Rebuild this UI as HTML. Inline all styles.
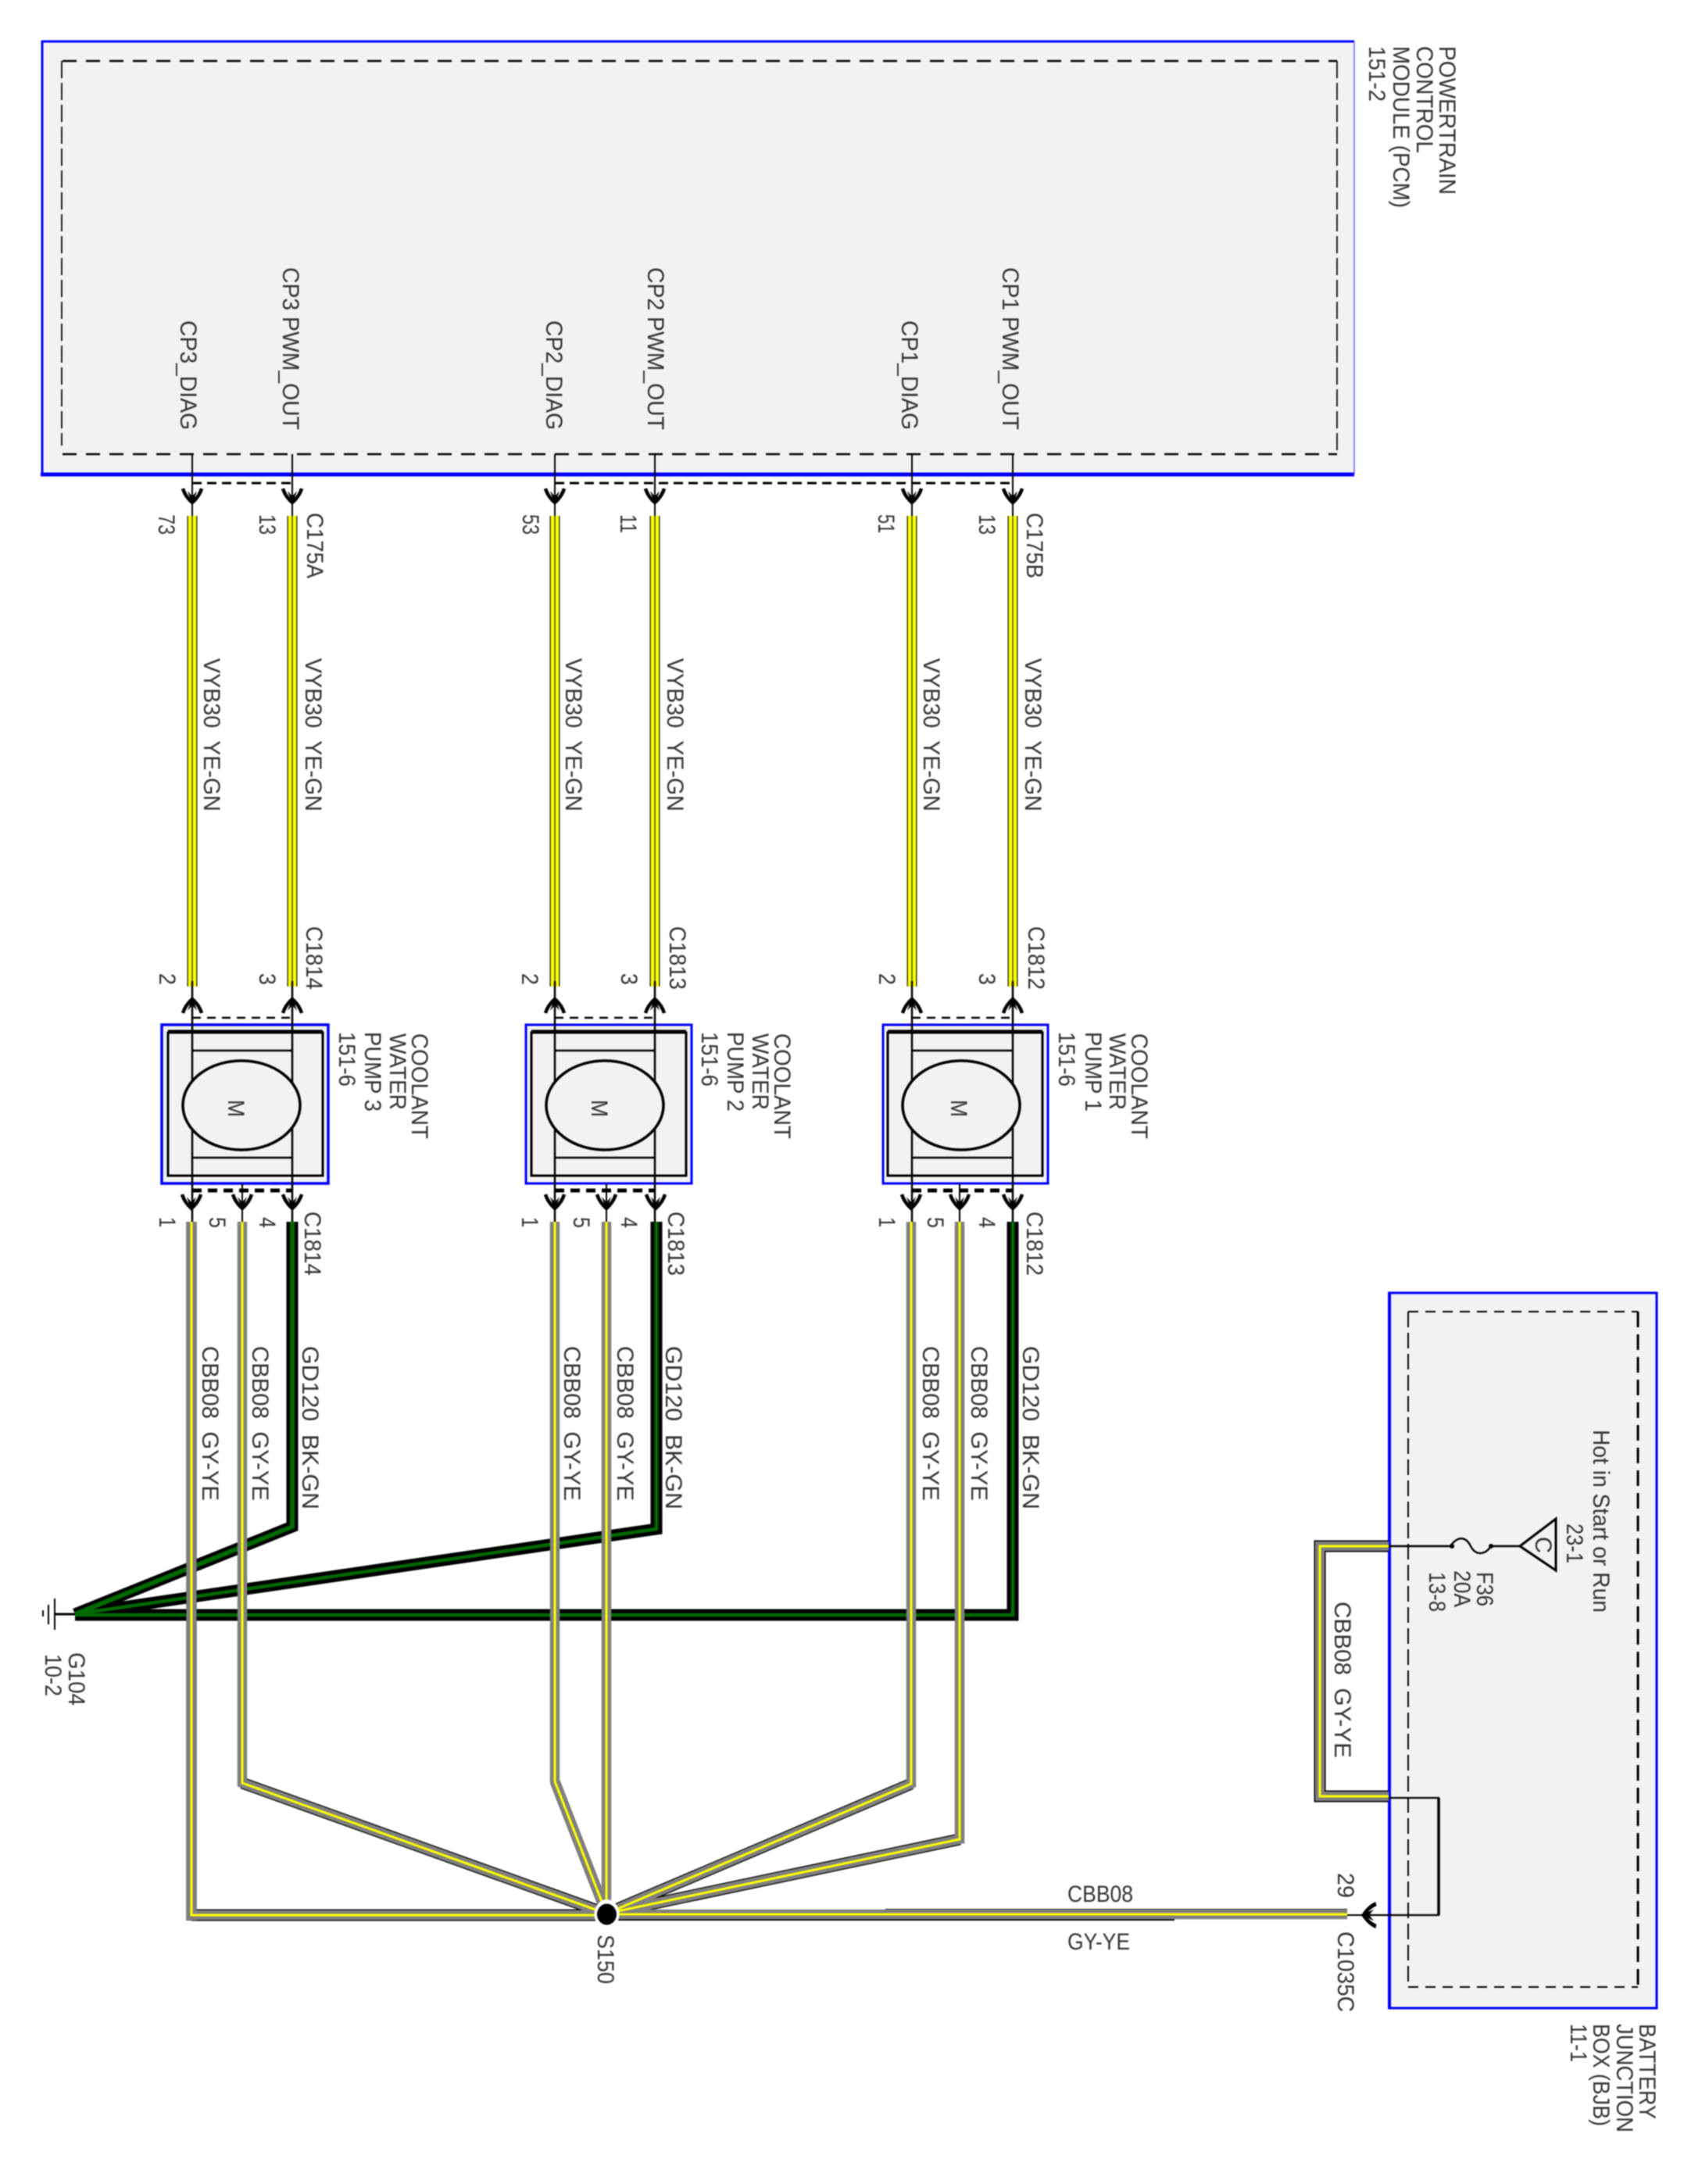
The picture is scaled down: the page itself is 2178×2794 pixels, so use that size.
<!DOCTYPE html>
<html><head><meta charset="utf-8"><style>
html,body{margin:0;padding:0;background:#fff;width:2178px;height:2794px;overflow:hidden}
svg{display:block;filter:blur(.7px)}
text{font-family:"Liberation Sans",sans-serif;font-size:30px;fill:#333}
.bk{fill:none;stroke:#000;stroke-width:15}
.gy{fill:none;stroke:#808080;stroke-width:12.5}
.ye{fill:none;stroke:#ff0;stroke-width:3}
.gk{fill:none;stroke:#000;stroke-width:15}
.gn{fill:none;stroke:#006a00;stroke-width:4.5}
</style></head><body>
<svg width="2178" height="2794" viewBox="0 0 2178 2794" xmlns="http://www.w3.org/2000/svg">
<defs>
<g id="ar"><path d="M-12,-21 Q-9,-11 0,-3 Q9,-11 12,-21" fill="none" stroke="#000" stroke-width="4.5"/><path d="M-6,-18 L0,0 L6,-18 L0,-11 Z" fill="#000"/></g>
</defs>

<!-- PCM -->
<rect x="54" y="53" width="1679" height="553" fill="#f2f2f2"/>
<path d="M53,53 H1733" stroke="#00f" stroke-width="3" fill="none"/>
<path d="M1733,53 V606" stroke="#66f" stroke-width="1.5" fill="none"/>
<path d="M54,52 V608" stroke="#00f" stroke-width="3" fill="none"/>
<path d="M52,607 H1733" stroke="#00f" stroke-width="5" fill="none"/>
<path d="M80,78 H1711 M80,581 H1711" stroke="#000" stroke-width="2.5" stroke-dasharray="18 12" fill="none"/>
<path d="M79,78 V570 M1711,78 V581" stroke="#000" stroke-width="1.7" stroke-dasharray="22 6" fill="none"/>

<!-- PCM leads -->
<path d="M246,581V660 M374,581V660 M710,581V660 M838,581V660 M1167,581V660 M1296,581V660" stroke="#000" stroke-width="2" fill="none"/>
<path d="M246,618H374 M710,618H1296" stroke="#000" stroke-width="3" stroke-dasharray="12 7" fill="none"/>
<use href="#ar" transform="translate(246,646)"/><use href="#ar" transform="translate(374,646)"/><use href="#ar" transform="translate(710,646)"/><use href="#ar" transform="translate(838,646)"/><use href="#ar" transform="translate(1167,646)"/><use href="#ar" transform="translate(1296,646)"/>

<!-- yellow wires -->
<g fill="none">
<path d="M246,660V1262 M374,660V1262 M710,660V1262 M838,660V1262 M1167,660V1262 M1296,660V1262" stroke="#111" stroke-width="13"/>
<path d="M246,660V1262 M374,660V1262 M710,660V1262 M838,660V1262 M1167,660V1262 M1296,660V1262" stroke="#ff0" stroke-width="10.5"/>
<path d="M246,660V1262 M374,660V1262 M710,660V1262 M838,660V1262 M1167,660V1262 M1296,660V1262" stroke="#3a5a00" stroke-width="1.5"/>
</g>

<!-- pumps -->
<g fill="#f2f2f2">
<rect x="207" y="1311" width="213" height="203" stroke="#00f" stroke-width="3.5"/>
<rect x="673" y="1311" width="212" height="203" stroke="#00f" stroke-width="3"/>
<rect x="1130" y="1311" width="211" height="203" stroke="#00f" stroke-width="3"/>
</g>
<g fill="none" stroke="#000" stroke-width="3">
<rect x="215" y="1321" width="198" height="183"/><path d="M215,1320H413" stroke-width="5"/>
<rect x="680" y="1321" width="198" height="183"/><path d="M680,1320H878" stroke-width="5"/>
<rect x="1136" y="1321" width="198" height="183"/><path d="M1136,1320H1334" stroke-width="5"/>
<path d="M246,1344H374 M246,1481H374 M710,1344H838 M710,1481H838 M1167,1344H1296 M1167,1481H1296" stroke-width="2.5"/>
<path d="M246,1255V1563 M374,1255V1563 M710,1255V1563 M838,1255V1563 M1167,1255V1563 M1296,1255V1563" stroke-width="2.5"/>
<path d="M310,1514V1563 M776,1514V1563 M1228,1514V1563" stroke-width="2"/>
<path d="M246,1302H374 M710,1302H838 M1167,1302H1296" stroke-dasharray="11 8" stroke-width="2.5"/>
<path d="M246,1523H374 M710,1523H838 M1167,1523H1296" stroke-dasharray="12 8" stroke-width="5"/>
</g>
<g fill="#f2f2f2" stroke="#000" stroke-width="3.5">
<ellipse cx="309" cy="1414" rx="75" ry="57"/>
<ellipse cx="774" cy="1414" rx="75" ry="57"/>
<ellipse cx="1230" cy="1414" rx="75" ry="57"/>
</g>
<g>
<use href="#ar" transform="translate(246,1275) rotate(180)"/><use href="#ar" transform="translate(374,1275) rotate(180)"/><use href="#ar" transform="translate(710,1275) rotate(180)"/><use href="#ar" transform="translate(838,1275) rotate(180)"/><use href="#ar" transform="translate(1167,1275) rotate(180)"/><use href="#ar" transform="translate(1296,1275) rotate(180)"/>
<use href="#ar" transform="translate(245,1549)"/><use href="#ar" transform="translate(310,1549)"/><use href="#ar" transform="translate(374,1549)"/><use href="#ar" transform="translate(710,1549)"/><use href="#ar" transform="translate(776,1549)"/><use href="#ar" transform="translate(839,1549)"/><use href="#ar" transform="translate(1166,1549)"/><use href="#ar" transform="translate(1228,1549)"/><use href="#ar" transform="translate(1296,1549)"/>
</g>

<!-- ground wires -->
<path class="gk" d="M374,1563V1953L96,2065"/><path class="gk" d="M840,1563V1956L96,2065"/><path class="gk" d="M1296,1563V2066H96"/>
<path class="gn" style="stroke-width:6" d="M374,1563V1953L96,2065"/><path class="gn" d="M840,1563V1956L96,2065"/><path class="gn" d="M1296,1563V2066H96"/>
<!-- ground symbol -->
<path d="M96,2065H70 M70,2045V2085 M62,2053V2078 M55,2060V2068" stroke="#000" fill="none" stroke-width="2"/>
<path d="M96,2065H70" stroke="#000" fill="none" stroke-width="3"/>

<!-- gray wires -->
<path class="bk" d="M245,2450H776"/><path class="bk" d="M310,2281L776,2448"/><path class="bk" d="M710,2279L776,2448" style="stroke-width:13"/><path class="bk" d="M1166,2282L776,2448"/><path class="bk" d="M1228,2353L776,2448"/>
<path d="M245,1563V2457" stroke="#555" stroke-width="13.5" fill="none"/>
<path d="M1133,2443H1724" stroke="#000" stroke-width="2" fill="none"/>
<path d="M776,2456H1503" stroke="#000" stroke-width="2" fill="none"/>
<path class="gy" d="M245,1563V2450H776"/><path class="gy" d="M310,1563V2281L776,2448"/><path class="gy" d="M710,1563V2279L776,2448"/><path class="gy" d="M776,1563V2448"/><path class="gy" d="M1166,1563V2282L776,2448"/><path class="gy" d="M1228,1563V2353L776,2448"/><path class="gy" d="M776,2449H1724"/>
<path class="ye" d="M245,1563V2450H776"/><path class="ye" d="M310,1563V2281L776,2448"/><path class="ye" d="M710,1563V2279L776,2448"/><path class="ye" d="M776,1563V2448"/><path class="ye" d="M1166,1563V2282L776,2448"/><path class="ye" d="M1228,1563V2353L776,2448"/><path class="ye" d="M776,2449H1724"/>
<ellipse cx="776.5" cy="2449" rx="16" ry="19" fill="#fff"/>
<ellipse cx="776.5" cy="2449" rx="12.5" ry="13.5" fill="#000"/>

<!-- BJB -->
<rect x="1778" y="1654" width="342" height="915" fill="#f2f2f2" stroke="#00f" stroke-width="3"/>
<path d="M1778,1653V2570" stroke="#00f" stroke-width="4" fill="none"/>
<path d="M1802,1678V2542" stroke="#000" stroke-width="2" stroke-dasharray="20 7" fill="none"/>
<path d="M2096,1678V2542" stroke="#000" stroke-width="3" stroke-dasharray="20 9" fill="none"/>
<path d="M1802,1678H2096 M1802,2542H2096" stroke="#000" stroke-width="2" stroke-dasharray="13 9" fill="none"/>
<!-- loop wire -->
<path d="M1777,1978H1689V2298H1777" fill="none" stroke="#000" stroke-width="15"/>
<path d="M1777,1978H1689V2298H1777" fill="none" stroke="#808080" stroke-width="12"/>
<path d="M1777,1978H1689V2298H1777" fill="none" stroke="#ff0" stroke-width="3"/>
<!-- fuse etc -->
<path d="M1777,1978H1856 C1866,1964 1876,1966 1882,1978 C1888,1990 1900,1990 1908,1978 H1945" fill="none" stroke="#000" stroke-width="2.4"/>
<circle cx="1858" cy="1978" r="3" fill="#000"/><circle cx="1908" cy="1978" r="3" fill="#000"/>
<path d="M1945,1978L1991,1943V2009Z" fill="none" stroke="#000" stroke-width="3"/>
<path d="M1777,2300H1841V2450H1742" fill="none" stroke="#000" stroke-width="2.2"/>
<path d="M1841,2300V2450" stroke="#000" stroke-width="3.5" fill="none"/>
<path d="M1742,2450H1724" stroke="#000" stroke-width="2" fill="none"/>
<use href="#ar" transform="translate(1742,2450) rotate(90) scale(1.2,0.9)"/>

<g transform="translate(2,0)">
<!-- labels PCM -->
<text transform="translate(1840,59) rotate(90)" textLength="190" lengthAdjust="spacingAndGlyphs">POWERTRAIN</text>
<text transform="translate(1811,59) rotate(90)" textLength="137" lengthAdjust="spacingAndGlyphs">CONTROL</text>
<text transform="translate(1781,59) rotate(90)" textLength="207" lengthAdjust="spacingAndGlyphs">MODULE (PCM)</text>
<text transform="translate(1750,59) rotate(90)" textLength="71" lengthAdjust="spacingAndGlyphs">151-2</text>
<text transform="translate(360,342) rotate(90)" textLength="208" lengthAdjust="spacingAndGlyphs">CP3 PWM_OUT</text>
<text transform="translate(229,410) rotate(90)" textLength="140" lengthAdjust="spacingAndGlyphs">CP3_DIAG</text>
<text transform="translate(827,342) rotate(90)" textLength="208" lengthAdjust="spacingAndGlyphs">CP2 PWM_OUT</text>
<text transform="translate(697,410) rotate(90)" textLength="140" lengthAdjust="spacingAndGlyphs">CP2_DIAG</text>
<text transform="translate(1281,342) rotate(90)" textLength="208" lengthAdjust="spacingAndGlyphs">CP1 PWM_OUT</text>
<text transform="translate(1152,410) rotate(90)" textLength="140" lengthAdjust="spacingAndGlyphs">CP1_DIAG</text>
<text transform="translate(391,656) rotate(90)" textLength="84" lengthAdjust="spacingAndGlyphs">C175A</text>
<text transform="translate(1312,656) rotate(90)" textLength="84" lengthAdjust="spacingAndGlyphs">C175B</text>

<!-- wire labels top -->
<text transform="translate(259,842) rotate(90)" textLength="196" lengthAdjust="spacingAndGlyphs">VYB30&#160;&#160;YE-GN</text>
<text transform="translate(389,842) rotate(90)" textLength="196" lengthAdjust="spacingAndGlyphs">VYB30&#160;&#160;YE-GN</text>
<text transform="translate(722,842) rotate(90)" textLength="196" lengthAdjust="spacingAndGlyphs">VYB30&#160;&#160;YE-GN</text>
<text transform="translate(852,842) rotate(90)" textLength="196" lengthAdjust="spacingAndGlyphs">VYB30&#160;&#160;YE-GN</text>
<text transform="translate(1180,842) rotate(90)" textLength="196" lengthAdjust="spacingAndGlyphs">VYB30&#160;&#160;YE-GN</text>
<text transform="translate(1310,842) rotate(90)" textLength="196" lengthAdjust="spacingAndGlyphs">VYB30&#160;&#160;YE-GN</text>

<text transform="translate(390,1185) rotate(90)" textLength="81" lengthAdjust="spacingAndGlyphs">C1814</text>
<text transform="translate(855,1185) rotate(90)" textLength="81" lengthAdjust="spacingAndGlyphs">C1813</text>
<text transform="translate(1314,1185) rotate(90)" textLength="81" lengthAdjust="spacingAndGlyphs">C1812</text>
<text transform="translate(388,1550) rotate(90)" textLength="82" lengthAdjust="spacingAndGlyphs">C1814</text>
<text transform="translate(853,1550) rotate(90)" textLength="82" lengthAdjust="spacingAndGlyphs">C1813</text>
<text transform="translate(1312,1550) rotate(90)" textLength="82" lengthAdjust="spacingAndGlyphs">C1812</text>

<!-- wire labels bottom -->
<text transform="translate(257,1722) rotate(90)" textLength="198" lengthAdjust="spacingAndGlyphs">CBB08&#160;&#160;GY-YE</text>
<text transform="translate(321,1722) rotate(90)" textLength="198" lengthAdjust="spacingAndGlyphs">CBB08&#160;&#160;GY-YE</text>
<text transform="translate(385,1722) rotate(90)" textLength="209" lengthAdjust="spacingAndGlyphs">GD120&#160;&#160;BK-GN</text>
<text transform="translate(720,1722) rotate(90)" textLength="198" lengthAdjust="spacingAndGlyphs">CBB08&#160;&#160;GY-YE</text>
<text transform="translate(788,1722) rotate(90)" textLength="198" lengthAdjust="spacingAndGlyphs">CBB08&#160;&#160;GY-YE</text>
<text transform="translate(850,1722) rotate(90)" textLength="209" lengthAdjust="spacingAndGlyphs">GD120&#160;&#160;BK-GN</text>
<text transform="translate(1179,1722) rotate(90)" textLength="198" lengthAdjust="spacingAndGlyphs">CBB08&#160;&#160;GY-YE</text>
<text transform="translate(1241,1722) rotate(90)" textLength="198" lengthAdjust="spacingAndGlyphs">CBB08&#160;&#160;GY-YE</text>
<text transform="translate(1307,1722) rotate(90)" textLength="209" lengthAdjust="spacingAndGlyphs">GD120&#160;&#160;BK-GN</text>

<!-- pump labels -->
<text transform="translate(525,1322) rotate(90)" textLength="135" lengthAdjust="spacingAndGlyphs">COOLANT</text>
<text transform="translate(497,1322) rotate(90)" textLength="98" lengthAdjust="spacingAndGlyphs">WATER</text>
<text transform="translate(465,1320) rotate(90)" textLength="102" lengthAdjust="spacingAndGlyphs">PUMP 3</text>
<text transform="translate(432,1320) rotate(90)" textLength="70" lengthAdjust="spacingAndGlyphs">151-6</text>
<text transform="translate(989,1322) rotate(90)" textLength="135" lengthAdjust="spacingAndGlyphs">COOLANT</text>
<text transform="translate(961,1322) rotate(90)" textLength="98" lengthAdjust="spacingAndGlyphs">WATER</text>
<text transform="translate(929,1320) rotate(90)" textLength="102" lengthAdjust="spacingAndGlyphs">PUMP 2</text>
<text transform="translate(896,1320) rotate(90)" textLength="70" lengthAdjust="spacingAndGlyphs">151-6</text>
<text transform="translate(1446,1322) rotate(90)" textLength="135" lengthAdjust="spacingAndGlyphs">COOLANT</text>
<text transform="translate(1418,1322) rotate(90)" textLength="98" lengthAdjust="spacingAndGlyphs">WATER</text>
<text transform="translate(1387,1320) rotate(90)" textLength="102" lengthAdjust="spacingAndGlyphs">PUMP 1</text>
<text transform="translate(1353,1320) rotate(90)" textLength="70" lengthAdjust="spacingAndGlyphs">151-6</text>

<!-- ground / splice labels -->
<text transform="translate(86,2114) rotate(90)" textLength="68" lengthAdjust="spacingAndGlyphs">G104</text>
<text transform="translate(56,2116) rotate(90)" textLength="54" lengthAdjust="spacingAndGlyphs">10-2</text>
<text transform="translate(763,2475) rotate(90)" textLength="63" lengthAdjust="spacingAndGlyphs">S150</text>
<text transform="translate(1710,2396) rotate(90)" textLength="32" lengthAdjust="spacingAndGlyphs">29</text>
<text transform="translate(1710,2471) rotate(90)" textLength="103" lengthAdjust="spacingAndGlyphs">C1035C</text>
<text transform="translate(1706,2049) rotate(90)" textLength="200" lengthAdjust="spacingAndGlyphs">CBB08&#160;&#160;GY-YE</text>
</g>

<!-- connector numbers top -->
<text transform="translate(203,658) rotate(90)" textLength="26" lengthAdjust="spacingAndGlyphs">73</text>
<text transform="translate(332,658) rotate(90)" textLength="26" lengthAdjust="spacingAndGlyphs">13</text>
<text transform="translate(669,658) rotate(90)" textLength="26" lengthAdjust="spacingAndGlyphs">53</text>
<text transform="translate(794,658) rotate(90)" textLength="24" lengthAdjust="spacingAndGlyphs">11</text>
<text transform="translate(1124,658) rotate(90)" textLength="24" lengthAdjust="spacingAndGlyphs">51</text>
<text transform="translate(1253,658) rotate(90)" textLength="26" lengthAdjust="spacingAndGlyphs">13</text>

<!-- pin labels above pumps -->
<text transform="translate(204,1245) rotate(90)" textLength="15" lengthAdjust="spacingAndGlyphs">2</text>
<text transform="translate(332,1245) rotate(90)" textLength="15" lengthAdjust="spacingAndGlyphs">3</text>
<text transform="translate(668,1245) rotate(90)" textLength="15" lengthAdjust="spacingAndGlyphs">2</text>
<text transform="translate(795,1245) rotate(90)" textLength="15" lengthAdjust="spacingAndGlyphs">3</text>
<text transform="translate(1125,1245) rotate(90)" textLength="15" lengthAdjust="spacingAndGlyphs">2</text>
<text transform="translate(1253,1245) rotate(90)" textLength="15" lengthAdjust="spacingAndGlyphs">3</text>

<!-- pin labels below pumps -->
<text transform="translate(204,1557) rotate(90)" textLength="13" lengthAdjust="spacingAndGlyphs">1</text>
<text transform="translate(268,1557) rotate(90)" textLength="14" lengthAdjust="spacingAndGlyphs">5</text>
<text transform="translate(332,1557) rotate(90)" textLength="14" lengthAdjust="spacingAndGlyphs">4</text>
<text transform="translate(668,1557) rotate(90)" textLength="13" lengthAdjust="spacingAndGlyphs">1</text>
<text transform="translate(734,1557) rotate(90)" textLength="14" lengthAdjust="spacingAndGlyphs">5</text>
<text transform="translate(795,1557) rotate(90)" textLength="14" lengthAdjust="spacingAndGlyphs">4</text>
<text transform="translate(1125,1557) rotate(90)" textLength="13" lengthAdjust="spacingAndGlyphs">1</text>
<text transform="translate(1187,1557) rotate(90)" textLength="14" lengthAdjust="spacingAndGlyphs">5</text>
<text transform="translate(1253,1557) rotate(90)" textLength="14" lengthAdjust="spacingAndGlyphs">4</text>

<!-- M -->
<text transform="translate(292,1407) rotate(90)" textLength="22" lengthAdjust="spacingAndGlyphs">M</text>
<text transform="translate(757,1407) rotate(90)" textLength="22" lengthAdjust="spacingAndGlyphs">M</text>
<text transform="translate(1217,1407) rotate(90)" textLength="22" lengthAdjust="spacingAndGlyphs">M</text>

<text x="1366" y="2433" textLength="84" lengthAdjust="spacingAndGlyphs">CBB08</text>
<text x="1366" y="2494" textLength="80" lengthAdjust="spacingAndGlyphs">GY-YE</text>

<!-- BJB labels -->
<text transform="translate(2098,2589) rotate(90)" textLength="122" lengthAdjust="spacingAndGlyphs">BATTERY</text>
<text transform="translate(2069,2589) rotate(90)" textLength="139" lengthAdjust="spacingAndGlyphs">JUNCTION</text>
<text transform="translate(2039,2589) rotate(90)" textLength="131" lengthAdjust="spacingAndGlyphs">BOX (BJB)</text>
<text transform="translate(2010,2589) rotate(90)" textLength="49" lengthAdjust="spacingAndGlyphs">11-1</text>
<text transform="translate(2039,1829) rotate(90)" textLength="234" lengthAdjust="spacingAndGlyphs">Hot in Start or Run</text>
<text transform="translate(2005,1949) rotate(90)" textLength="51" lengthAdjust="spacingAndGlyphs">23-1</text>
<text transform="translate(1890,2011) rotate(90)" textLength="44" lengthAdjust="spacingAndGlyphs">F36</text>
<text transform="translate(1861,2009) rotate(90)" textLength="47" lengthAdjust="spacingAndGlyphs">20A</text>
<text transform="translate(1829,2011) rotate(90)" textLength="51" lengthAdjust="spacingAndGlyphs">13-8</text>
<text transform="translate(1965,1966) rotate(90)" textLength="21" lengthAdjust="spacingAndGlyphs">C</text>
</svg>
</body></html>
